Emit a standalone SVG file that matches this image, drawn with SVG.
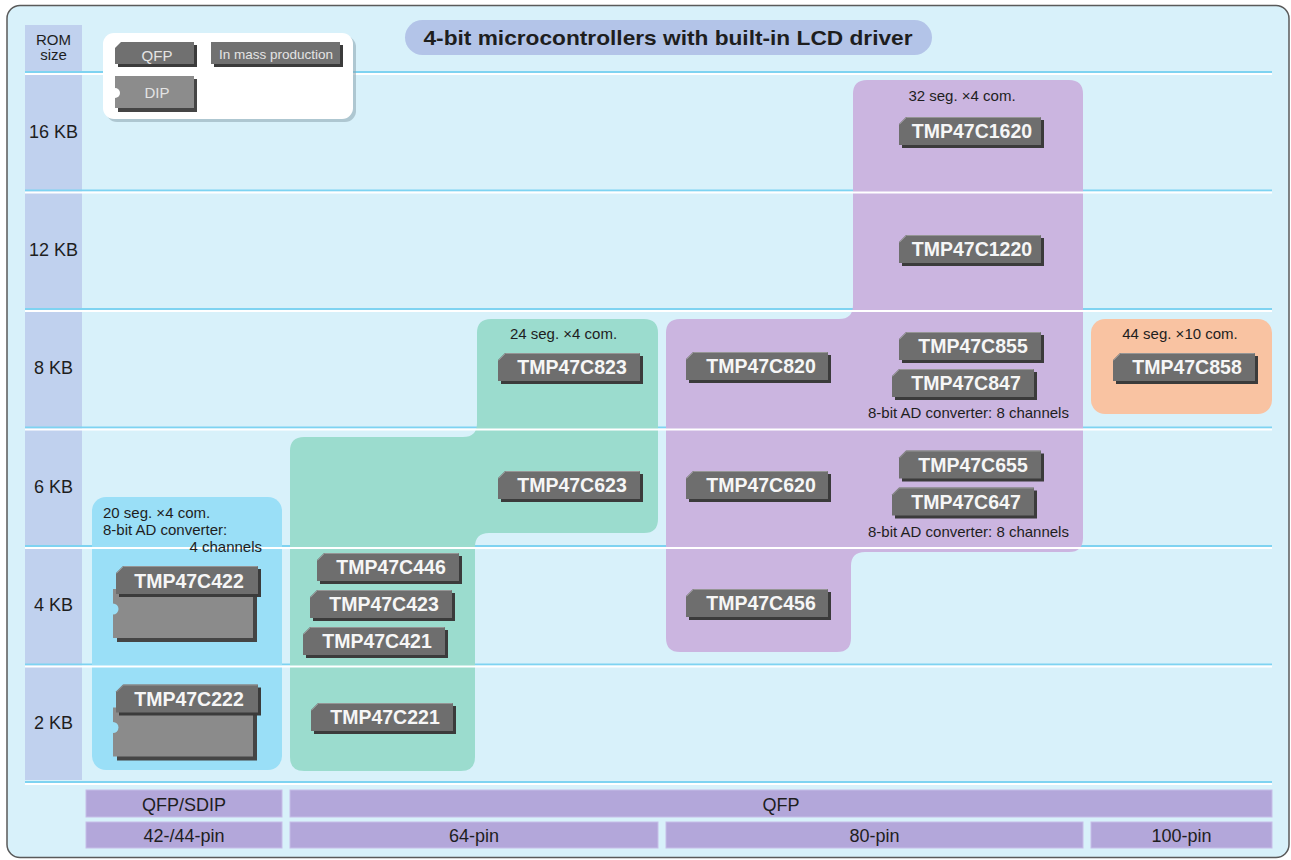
<svg xmlns="http://www.w3.org/2000/svg" width="1291" height="860" viewBox="0 0 1291 860">
<style>
.t{font-family:"Liberation Sans",Arial,sans-serif;fill:#1e1e1e}
.rom{font-size:18px;text-anchor:middle}
.ann{font-size:15px}
.chipt{font-family:"Liberation Sans",Arial,sans-serif;font-weight:bold;font-size:19.5px;fill:#f6f6f6;text-anchor:middle}
.leg{font-family:"Liberation Sans",Arial,sans-serif;fill:#e4e4e4;text-anchor:middle}
.cyan{stroke:#7ed3f1;stroke-width:2}
.white{stroke:#ffffff;stroke-width:2}
.pkg{fill:#b3a7da;stroke:#c6bee8;stroke-width:1}
.pk{font-size:18px;text-anchor:middle}
</style>
<defs>
<g id="chip">
<path d="M10 3 H145 V31 H3 V10 Z" fill="#3b3b3b"/>
<path d="M7 0 H142 V28 H0 V7 Z" fill="#6e6e6e"/>
<path d="M0.5 7.5 L7.5 0.5 H141.5" fill="none" stroke="#959595" stroke-width="1"/>
</g>
<g id="dipbody">
<rect x="4" y="4" width="140" height="49" fill="#454545"/>
<rect x="0" y="0" width="140" height="49" fill="#8b8b8b"/>
<circle cx="0" cy="20" r="5.5" fill="#9adff7"/>
</g>
</defs>

<!-- frame -->
<rect x="7" y="5.5" width="1282" height="852" rx="13" fill="#d8f1fa" stroke="#5a5a5a" stroke-width="1.5"/>

<!-- ROM column -->
<rect x="25" y="25" width="57" height="755" fill="#c0d1ee"/>

<!-- cyan row lines -->
<g id="gridlines-cyan">
<line class="cyan" x1="25" y1="72" x2="1272" y2="72"/>
<line class="cyan" x1="25" y1="190.5" x2="1272" y2="190.5"/>
<line class="cyan" x1="25" y1="309" x2="1272" y2="309"/>
<line class="cyan" x1="25" y1="427.5" x2="1272" y2="427.5"/>
<line class="cyan" x1="25" y1="546" x2="1272" y2="546"/>
<line class="cyan" x1="25" y1="664.5" x2="1272" y2="664.5"/>
<line class="cyan" x1="25" y1="782" x2="1272" y2="782"/>
</g>

<!-- colored regions -->
<g id="region-blue">
<rect x="92" y="497" width="190" height="273" rx="14" fill="#9adff7"/>
</g>
<g id="region-green">
<path d="M304 437 H463 Q477 437 477 423 V333 Q477 319 491 319 H644 Q658 319 658 333 V519 Q658 533 644 533 H489 Q475 533 475 547 V757 Q475 771 461 771 H304 Q290 771 290 757 V451 Q290 437 304 437 Z" fill="#9bdcce"/>
</g>
<g id="region-purple">
<path d="M867 80 H1069 Q1083 80 1083 94 V538 Q1083 552 1069 552 H865 Q851 552 851 566 V638 Q851 652 837 652 H680 Q666 652 666 638 V333 Q666 319 680 319 H839 Q853 319 853 305 V94 Q853 80 867 80 Z" fill="#cbb5e0"/>
</g>
<g id="region-orange">
<rect x="1091" y="319" width="181" height="95" rx="14" fill="#f9c3a2"/>
</g>

<!-- white row lines -->
<g id="gridlines-white">
<line class="white" x1="25" y1="74" x2="1272" y2="74"/>
<line class="white" x1="25" y1="192.5" x2="1272" y2="192.5"/>
<line class="white" x1="25" y1="311" x2="1272" y2="311"/>
<line class="white" x1="25" y1="429.5" x2="1272" y2="429.5"/>
<line class="white" x1="25" y1="548" x2="1272" y2="548"/>
<line class="white" x1="25" y1="666.5" x2="1272" y2="666.5"/>
<line class="white" x1="25" y1="784" x2="1272" y2="784"/>
</g>

<!-- ROM labels -->
<g id="rom-labels">
<text class="t" x="53.5" y="45" font-size="15" text-anchor="middle">ROM</text>
<text class="t" x="53.5" y="60" font-size="15" text-anchor="middle">size</text>
<text class="t rom" x="53.5" y="137.5">16 KB</text>
<text class="t rom" x="53.5" y="256">12 KB</text>
<text class="t rom" x="53.5" y="374">8 KB</text>
<text class="t rom" x="53.5" y="492.5">6 KB</text>
<text class="t rom" x="53.5" y="611">4 KB</text>
<text class="t rom" x="53.5" y="729">2 KB</text>
</g>

<!-- title -->
<g id="title">
<rect x="405" y="20" width="527" height="35" rx="17.5" fill="#b3c4e8"/>
<text class="t" x="668" y="45" font-size="20.5" font-weight="bold" text-anchor="middle" textLength="489" lengthAdjust="spacingAndGlyphs">4-bit microcontrollers with built-in LCD driver</text>
</g>

<!-- legend -->
<g id="legend">
<rect x="106" y="36" width="250" height="86" rx="11" fill="#8da4ae" opacity="0.55"/>
<rect x="103" y="33" width="250" height="86" rx="11" fill="#ffffff"/>
<path d="M121 45 H197 V67 H118 V51 Z" fill="#3b3b3b"/>
<path d="M121 42 H194 V64 H115 V48 Z" fill="#707070"/>
<text class="leg" x="157" y="60.5" font-size="15">QFP</text>
<rect x="214" y="45" width="129" height="22" fill="#3b3b3b"/>
<rect x="211" y="42" width="129" height="22" fill="#717171"/>
<text class="leg" x="276" y="59" font-size="13.5">In mass production</text>
<rect x="118" y="79" width="79" height="33" fill="#454545"/>
<rect x="115" y="76" width="79" height="32" fill="#8c8c8c"/>
<circle cx="115" cy="93" r="5" fill="#ffffff"/>
<text class="leg" x="157" y="98" font-size="15">DIP</text>
</g>

<!-- annotations -->
<g id="annotations">
<text class="t ann" x="103" y="518">20 seg. ×4 com.</text>
<text class="t ann" x="103" y="535">8-bit AD converter:</text>
<text class="t ann" x="262" y="552" text-anchor="end">4 channels</text>
<text class="t ann" x="563.5" y="339" text-anchor="middle">24 seg. ×4 com.</text>
<text class="t ann" x="962" y="101" text-anchor="middle">32 seg. ×4 com.</text>
<text class="t ann" x="968.5" y="418" text-anchor="middle">8-bit AD converter: 8 channels</text>
<text class="t ann" x="968.5" y="536.5" text-anchor="middle">8-bit AD converter: 8 channels</text>
<text class="t ann" x="1180" y="339" text-anchor="middle">44 seg. ×10 com.</text>
</g>

<!-- DIP chips -->
<g id="TMP47C422">
<use href="#dipbody" x="113" y="589"/>
<use href="#chip" x="116" y="566"/>
<text class="chipt" x="189" y="587.5">TMP47C422</text>
</g>
<g id="TMP47C222">
<use href="#dipbody" x="113" y="707.5"/>
<use href="#chip" x="116" y="684.5"/>
<text class="chipt" x="189" y="706">TMP47C222</text>
</g>

<!-- QFP chips -->
<g id="TMP47C446"><use href="#chip" x="317" y="553"/><text class="chipt" x="391" y="574">TMP47C446</text></g>
<g id="TMP47C423"><use href="#chip" x="310" y="590"/><text class="chipt" x="384" y="611">TMP47C423</text></g>
<g id="TMP47C421"><use href="#chip" x="303" y="627"/><text class="chipt" x="377" y="648">TMP47C421</text></g>
<g id="TMP47C221"><use href="#chip" x="311" y="703"/><text class="chipt" x="385" y="724">TMP47C221</text></g>
<g id="TMP47C823"><use href="#chip" x="498" y="353"/><text class="chipt" x="572" y="374">TMP47C823</text></g>
<g id="TMP47C623"><use href="#chip" x="498" y="471"/><text class="chipt" x="572" y="492">TMP47C623</text></g>
<g id="TMP47C820"><use href="#chip" x="686" y="352"/><text class="chipt" x="761" y="373">TMP47C820</text></g>
<g id="TMP47C620"><use href="#chip" x="686" y="471"/><text class="chipt" x="761" y="492">TMP47C620</text></g>
<g id="TMP47C456"><use href="#chip" x="686" y="589"/><text class="chipt" x="761" y="610">TMP47C456</text></g>
<g id="TMP47C1620"><use href="#chip" x="899" y="117"/><text class="chipt" x="972" y="138">TMP47C1620</text></g>
<g id="TMP47C1220"><use href="#chip" x="899" y="235"/><text class="chipt" x="972" y="256">TMP47C1220</text></g>
<g id="TMP47C855"><use href="#chip" x="899" y="332"/><text class="chipt" x="973" y="353">TMP47C855</text></g>
<g id="TMP47C847"><use href="#chip" x="892" y="369"/><text class="chipt" x="966" y="390">TMP47C847</text></g>
<g id="TMP47C655"><use href="#chip" x="899" y="450.5"/><text class="chipt" x="973" y="471.5">TMP47C655</text></g>
<g id="TMP47C647"><use href="#chip" x="892" y="487.5"/><text class="chipt" x="966" y="508.5">TMP47C647</text></g>
<g id="TMP47C858"><use href="#chip" x="1113" y="353"/><text class="chipt" x="1187" y="374">TMP47C858</text></g>

<!-- package axis -->
<g id="package-axis">
<rect class="pkg" x="86" y="790" width="196" height="27"/>
<rect class="pkg" x="290" y="790" width="982" height="27"/>
<rect class="pkg" x="86" y="822" width="196" height="26"/>
<rect class="pkg" x="290" y="822" width="368" height="26"/>
<rect class="pkg" x="666" y="822" width="417" height="26"/>
<rect class="pkg" x="1091" y="822" width="181" height="26"/>
<text class="t pk" x="184" y="811" font-size="17">QFP/SDIP</text>
<text class="t pk" x="781" y="811" font-size="17">QFP</text>
<text class="t pk" x="184" y="842">42-/44-pin</text>
<text class="t pk" x="474" y="842">64-pin</text>
<text class="t pk" x="874.5" y="842">80-pin</text>
<text class="t pk" x="1181.5" y="842">100-pin</text>
</g>
</svg>
